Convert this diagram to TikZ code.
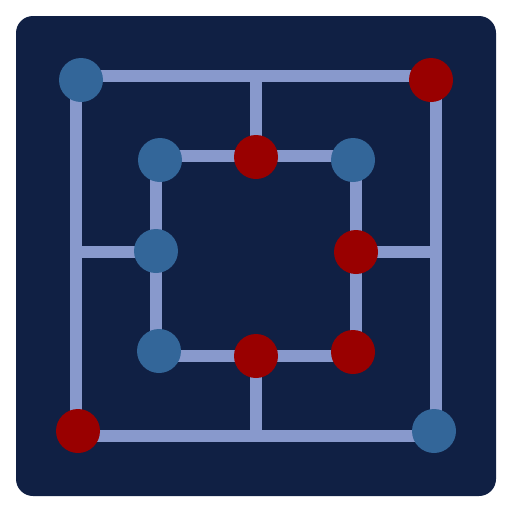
\documentclass[tikz,border=0pt]{standalone}
\definecolor{bgnavy}{RGB}{16,32,68}
\definecolor{linecol}{RGB}{136,153,204}
\definecolor{bluepc}{RGB}{51,102,153}
\definecolor{redpc}{RGB}{153,0,0}
\begin{document}
\begin{tikzpicture}[x=1pt,y=-1pt,
  board/.style={line width=12pt,draw=linecol},
  piece/.style={circle,minimum size=44pt,inner sep=0pt,draw=none},
  bluep/.style={piece,fill=bluepc},
  redp/.style={piece,fill=redpc}]
\useasboundingbox (0,0) rectangle (512,512);
\fill[bgnavy,rounded corners=17pt] (16,16) rectangle (496,496);
% grid points
\coordinate (o1) at (76,76);
\coordinate (o2) at (436,76);
\coordinate (o3) at (436,436);
\coordinate (o4) at (76,436);
\coordinate (i1) at (156,156);
\coordinate (i2) at (356,156);
\coordinate (i3) at (356,356);
\coordinate (i4) at (156,356);
\coordinate (ot) at (256,76);
\coordinate (it) at (256,156);
\coordinate (ol) at (76,252);
\coordinate (il) at (156,252);
\coordinate (or) at (436,252);
\coordinate (ir) at (356,252);
\coordinate (ob) at (256,436);
\coordinate (ib) at (256,356);
\draw[board] (o1) -- (o2) -- (o3) -- (o4) -- cycle;
\draw[board] (i1) -- (i2) -- (i3) -- (i4) -- cycle;
\draw[board] (ot) -- (it);
\draw[board] (ol) -- (il);
\draw[board] (or) -- (ir);
\draw[board] (ob) -- (ib);
% pieces
\node[bluep] (p1) at (81,80) {};
\node[redp] (p2) at (431,80) {};
\node[bluep] (p3) at (160,160) {};
\node[redp] (p4) at (256,157) {};
\node[bluep] (p5) at (353,160) {};
\node[bluep] (p6) at (156,251) {};
\node[redp] (p7) at (356,252) {};
\node[bluep] (p8) at (159,351) {};
\node[redp] (p9) at (256,356) {};
\node[redp] (p10) at (353,352) {};
\node[redp] (p11) at (78,431) {};
\node[bluep] (p12) at (434,431) {};
\end{tikzpicture}
\end{document}
